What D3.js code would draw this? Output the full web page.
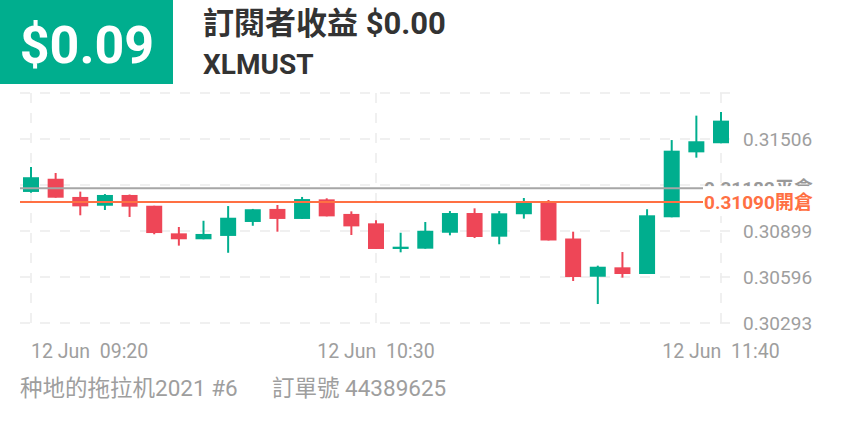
<!DOCTYPE html>
<html><head><meta charset="utf-8">
<script src="https://cdn.jsdelivr.net/npm/d3@7"></script>
<style>
html,body{margin:0;padding:0;background:#fff;}
svg{display:block;font-family:Roboto,"Noto Sans CJK TC",sans-serif;}
text{white-space:pre;}
</style></head>
<body><svg id="c" width="844" height="422"></svg>
<script>
// ---- data ----
const times = ["09:20","09:25","09:30","09:35","09:40","09:45","09:50","09:55","10:00","10:05","10:10","10:15","10:20","10:25","10:30","10:35","10:40","10:45","10:50","10:55","11:00","11:05","11:10","11:15","11:20","11:25","11:30","11:35","11:40"];
const opens  = [0.31157,0.31244,0.31124,0.31066,0.31137,0.31066,0.30884,0.30845,0.30867,0.30959,0.31045,0.30979,0.31108,0.31012,0.30950,0.30781,0.30783,0.30888,0.31018,0.30862,0.31010,0.31097,0.30850,0.30598,0.30660,0.30616,0.30990,0.31418,0.31478];
const highs  = [0.31321,0.31282,0.31159,0.31143,0.31140,0.31066,0.30926,0.30967,0.31064,0.31045,0.31071,0.31124,0.31115,0.31029,0.30970,0.30888,0.30959,0.31031,0.31049,0.31031,0.31117,0.31104,0.30895,0.30671,0.30761,0.31043,0.31499,0.31660,0.31684];
const lows   = [0.31152,0.31119,0.31003,0.31038,0.30992,0.30878,0.30803,0.30845,0.30756,0.30934,0.30895,0.30979,0.30996,0.30873,0.30781,0.30759,0.30783,0.30871,0.30853,0.30812,0.30981,0.30837,0.30570,0.30418,0.30592,0.30616,0.30990,0.31383,0.31478];
const closes = [0.31254,0.31119,0.31062,0.31137,0.31060,0.30886,0.30845,0.30880,0.30987,0.31043,0.30979,0.31110,0.30996,0.30930,0.30781,0.30796,0.30901,0.31018,0.30860,0.31016,0.31097,0.30837,0.30596,0.30664,0.30616,0.31003,0.31429,0.31491,0.31627];
const yTicks = [0.30293,0.30596,0.30899,0.31202,0.31506,0.31809];
const yTickLabels = ["0.30293","0.30596","0.30899","","0.31506",""];
const xTicks = ["09:20","10:30","11:40"];
const xTickLabels = ["12 Jun  09:20","12 Jun  10:30","12 Jun  11:40"];
const closeLevel = 0.31182, closeLabel = "0.31182平倉";
const openLevel = 0.31090, openLabel = "0.31090開倉";
const profit = "$0.09";
const title = "訂閱者收益 $0.00";
const symbol = "XLMUST";
const footer1 = "种地的拖拉机2021 #6", footer2 = "訂單號 44389625";

// ---- drawing ----
const GREEN = "#00ae8e", RED = "#ee4657", ORANGE = "#ff7043", GRID = "#ececec", AXIS = "#9e9e9e";
const svg = d3.select("#c");
const parse = d3.timeParse("%H:%M");
const x = d3.scaleTime().domain([parse("09:20"), parse("11:40")]).range([31, 721]);
const y = d3.scaleLinear().domain([0.30293, 0.31506]).range([323, 139]);
const L = 20, R = 730;

// header
svg.append("rect").attr("x",0).attr("y",0).attr("width",173).attr("height",84).attr("fill",GREEN);
svg.append("text").attr("x",87).attr("y",63).attr("text-anchor","middle").attr("fill","#fff")
  .attr("font-size",52).attr("font-weight","bold").text(profit);
svg.append("text").attr("x",203).attr("y",34).attr("fill","#333").attr("font-size",31).attr("font-weight","bold").text(title);
svg.append("text").attr("x",203).attr("y",74).attr("fill","#333").attr("font-size",28).attr("font-weight","bold").text(symbol);

// grid
const g = svg.append("g");
g.selectAll("line.h").data(yTicks).join("line")
  .attr("x1",L).attr("x2",R).attr("y1",d=>y(d)).attr("y2",d=>y(d))
  .attr("stroke",GRID).attr("stroke-width",1.5).attr("stroke-dasharray","10,10");
g.selectAll("line.v").data(xTicks).join("line")
  .attr("x1",d=>x(parse(d))).attr("x2",d=>x(parse(d)))
  .attr("y1",y(0.31809)).attr("y2",323)
  .attr("stroke",GRID).attr("stroke-width",1.5).attr("stroke-dasharray","10,10");

// y labels
g.selectAll("text.yl").data(yTicks.filter((d,i)=>yTickLabels[i])).join("text")
  .attr("x",743).attr("y",d=>y(d)+7).attr("fill",AXIS).attr("font-size",19)
  .text(d=>yTickLabels[yTicks.indexOf(d)]);

// x labels
g.selectAll("text.xl").data(xTicks).join("text")
  .attr("x",d=>x(parse(d)))
  .attr("text-anchor",(d,i)=> i===0 ? "start" : "middle")
  .attr("y",358).attr("fill",AXIS).attr("font-size",19.5)
  .text((d,i)=>xTickLabels[i]);

// candles
const data = times.map((t,i)=>({t:parse(t),o:opens[i],h:highs[i],l:lows[i],c:closes[i]}));
const cg = svg.append("g");
const bw = 16;
cg.selectAll("line.w").data(data).join("line")
  .attr("x1",d=>x(d.t)).attr("x2",d=>x(d.t)).attr("y1",d=>y(d.h)).attr("y2",d=>y(d.l))
  .attr("stroke",d=>d.c>=d.o?GREEN:RED).attr("stroke-width",2);
cg.selectAll("rect.b").data(data).join("rect")
  .attr("x",d=>x(d.t)-bw/2).attr("width",bw)
  .attr("y",d=>y(Math.max(d.o,d.c)))
  .attr("height",d=>Math.max(2,Math.abs(y(d.o)-y(d.c))))
  .attr("fill",d=>d.c>=d.o?GREEN:RED);

// level lines
svg.append("line").attr("x1",L).attr("x2",703).attr("y1",y(closeLevel)).attr("y2",y(closeLevel))
  .attr("stroke","#a6a6a6").attr("stroke-width",2);
svg.append("line").attr("x1",L).attr("x2",703).attr("y1",y(openLevel)).attr("y2",y(openLevel))
  .attr("stroke",ORANGE).attr("stroke-width",2);
svg.append("text").attr("x",704).attr("y",y(closeLevel)+7).attr("fill","#999").attr("font-size",19).attr("font-weight","bold").text(closeLabel);
svg.append("rect").attr("x",704).attr("y",y(openLevel)-16).attr("width",112).attr("height",30).attr("fill","#fff");
svg.append("text").attr("x",704).attr("y",y(openLevel)+7).attr("fill",ORANGE).attr("font-size",19).attr("font-weight","bold").text(openLabel);

// footer
svg.append("text").attr("x",20).attr("y",396).attr("fill",AXIS).attr("font-size",22.5).text(footer1);
svg.append("text").attr("x",272).attr("y",396).attr("fill",AXIS).attr("font-size",22.5).text(footer2);
</script></body></html>
